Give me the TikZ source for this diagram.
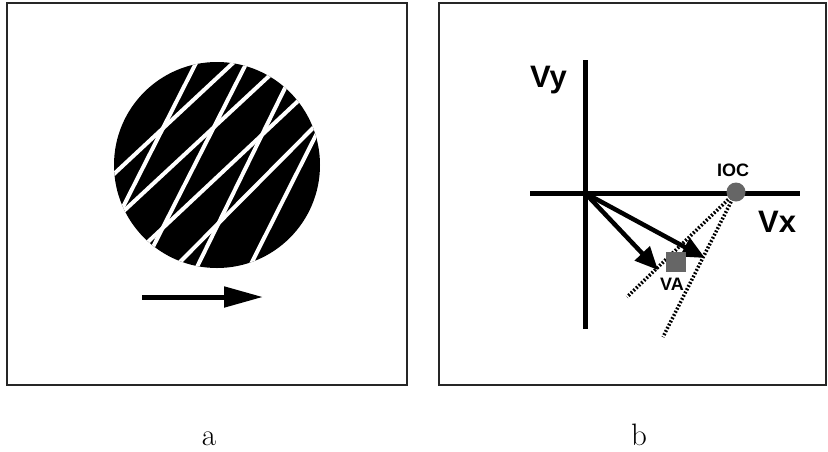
\documentclass[tikz,border=0pt]{standalone}
\usepackage{fontspec}
\newfontfamily\axfont{Liberation Sans}
\usetikzlibrary{arrows.meta}
\definecolor{dotgray}{HTML}{666666}
\tikzset{
  frame/.style  = {draw=black!85, line width=1.2pt},
  chord/.style  = {draw=white, line width=4pt, shorten <=-8pt, shorten >=-8pt},
  axis/.style   = {draw, line width=5pt},
  vec/.style    = {draw, line width=4.5pt, -{Triangle[length=23pt,width=20pt]}},
  cline/.style  = {draw, line width=3.5pt, dash pattern=on 1.8pt off 1.8pt},
  slab/.style   = {font=\axfont\bfseries\fontsize{18pt}{18pt}\selectfont, inner sep=0pt},
  blab/.style   = {font=\axfont\bfseries\fontsize{31pt}{31pt}\selectfont, inner sep=0pt},
  plab/.style   = {font=\fontsize{31pt}{31pt}\selectfont, inner sep=0pt}
}

\begin{document}
\begin{tikzpicture}[x=1pt, y=-1pt]
  \useasboundingbox (0,0) rectangle (828,451);

  % panel a
  \draw[frame] (7,3) rectangle (407,385);
  \fill (217,165) circle (103);
  \begin{scope}
    \clip (217,165) circle (103);
    \foreach \xa/\ya/\xb/\yb in {115/173/233/63, 127/208/268/77,
        150/240/297/102, 180/262/313/128, 125/203/195/65,
        155/243/245/66, 198/265/285/88, 252/262/315/137}
      \draw[chord] (\xa,\ya) -- (\xb,\yb);
  \end{scope}
  \coordinate (mstart) at (142,297);
  \coordinate (mend)   at (263,297);
  \draw[line width=5pt, -{Triangle[length=39pt,width=20pt]}] (mstart) -- (mend);
  \node[plab, anchor=base] (cap a) at (209,445) {a};

  % panel b
  \draw[frame] (439,3) rectangle (826,385);
  \coordinate (orig) at (585,193);
  \coordinate (ytop) at (585,60);
  \coordinate (ybot) at (585,329);
  \coordinate (xlft) at (530,193);
  \coordinate (xrgt) at (800,193);
  \draw[axis] (ytop) -- (ybot);
  \draw[axis] (xlft) -- (xrgt);

  \coordinate (iocc) at (736,192);
  \coordinate (cend1) at (627,297);
  \coordinate (cend2) at (663,337);
  \draw[cline] (iocc) -- (cend1);
  \draw[cline] (iocc) -- (cend2);

  \coordinate (vtip1) at (658,270);
  \coordinate (vtip2) at (705,258);
  \draw[vec] (orig) -- (vtip1);
  \draw[vec] (orig) -- (vtip2);

  \node[fill=dotgray, minimum size=20pt, inner sep=0pt] (va) at (676,262) {};
  \node[circle, fill=dotgray, minimum size=19pt, inner sep=0pt] (ioc) at (iocc) {};

  \node[blab, anchor=base west] (vy) at (530,87) {Vy};
  \node[blab, anchor=base west] (vx) at (758,232) {Vx};
  \node[slab, anchor=base] (ioc label) at (733,176) {IOC};
  \node[slab, anchor=base] (va label) at (672,290) {VA};
  \node[plab, anchor=base] (cap b) at (639,445) {b};
\end{tikzpicture}
\end{document}
